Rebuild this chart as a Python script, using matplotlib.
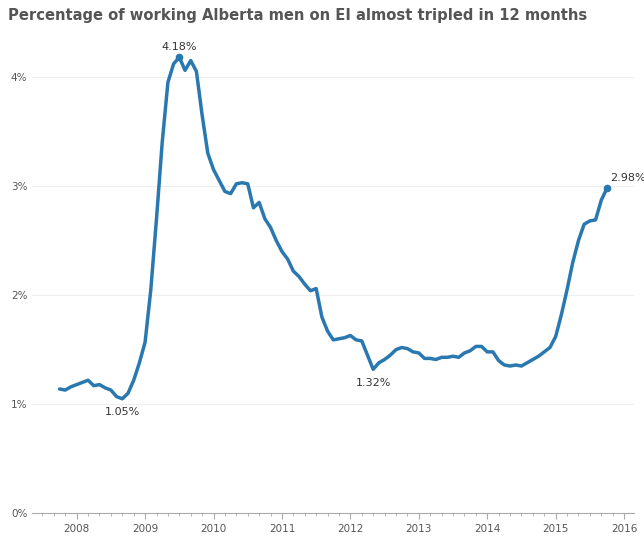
import matplotlib.pyplot as plt
import numpy as np

start_year = 2007
start_month = 10
values = [
    1.14, 1.13, 1.16,
    1.18, 1.20, 1.22, 1.17, 1.18, 1.15, 1.13, 1.07, 1.05, 1.10, 1.22, 1.38,
    1.57, 2.05, 2.70, 3.40, 3.95, 4.12, 4.18, 4.06, 4.15, 4.05, 3.65, 3.30,
    3.15, 3.05, 2.95, 2.93, 3.02, 3.03, 3.02, 2.80, 2.85, 2.70, 2.62, 2.50,
    2.40, 2.33, 2.22, 2.17, 2.10, 2.04, 2.06, 1.80, 1.67, 1.59, 1.60, 1.61,
    1.63, 1.59, 1.58, 1.45, 1.32, 1.38, 1.41, 1.45, 1.50, 1.52, 1.51, 1.48,
    1.47, 1.42, 1.42, 1.41, 1.43, 1.43, 1.44, 1.43, 1.47, 1.49, 1.53, 1.53,
    1.48, 1.48, 1.40, 1.36, 1.35, 1.36, 1.35, 1.38, 1.41, 1.44, 1.48, 1.52,
    1.62, 1.82, 2.05, 2.30, 2.50, 2.65, 2.68, 2.69, 2.87, 2.98,
]
labels = {'1.05%': 11, '4.18%': 21, '1.32%': 55, '2.98%': len(values) - 1}

x = np.array([start_year + (start_month - 1 + i) / 12 for i in range(len(values))])
y = np.array(values)

fig, ax = plt.subplots(figsize=(6.44, 5.52), dpi=100)
fig.subplots_adjust(left=0.05, right=0.985, top=0.92, bottom=0.07)
color = '#2a78b0'
ax.plot(x, y, color=color, lw=2.5, solid_capstyle='round')

for text, i in labels.items():
    if text in ('4.18%', '2.98%'):
        ax.plot(x[i], y[i], 'o', color=color, ms=4.5)
    if text in ('1.05%', '1.32%'):
        ax.annotate(text, (x[i], y[i]), xytext=(0, -6), textcoords='offset points',
                    ha='center', va='top', fontsize=8, color='#333333')
    else:
        ax.annotate(text, (x[i], y[i]), xytext=(2 if text == '2.98%' else 0, 4),
                    textcoords='offset points', ha='left' if text == '2.98%' else 'center',
                    va='bottom', fontsize=8, color='#333333')

ax.set_xlim(2007.35, 2016.15)
ax.set_ylim(0, 4.3)
ax.set_yticks([0, 1, 2, 3, 4])
ax.set_yticklabels(['0%', '1%', '2%', '3%', '4%'])
ax.set_xticks(range(2008, 2017))
ax.set_xticks(np.arange(2007.5, 2016.1, 1 / 6), minor=True)
ax.tick_params(axis='both', labelsize=7.5, colors='#555555', length=0)
ax.tick_params(axis='x', which='minor', length=2, color='#aaaaaa')
ax.tick_params(axis='x', which='major', length=4, color='#aaaaaa')
ax.grid(axis='y', color='#eeeeee', lw=0.8)
for s in ['top', 'right', 'left']:
    ax.spines[s].set_visible(False)
ax.spines['bottom'].set_color('#aaaaaa')

fig.text(0.012, 0.985, 'Percentage of working Alberta men on EI almost tripled in 12 months',
         fontsize=10.6, fontweight='bold', color='#555555', va='top', ha='left')

fig.savefig('out.png', dpi=100)
